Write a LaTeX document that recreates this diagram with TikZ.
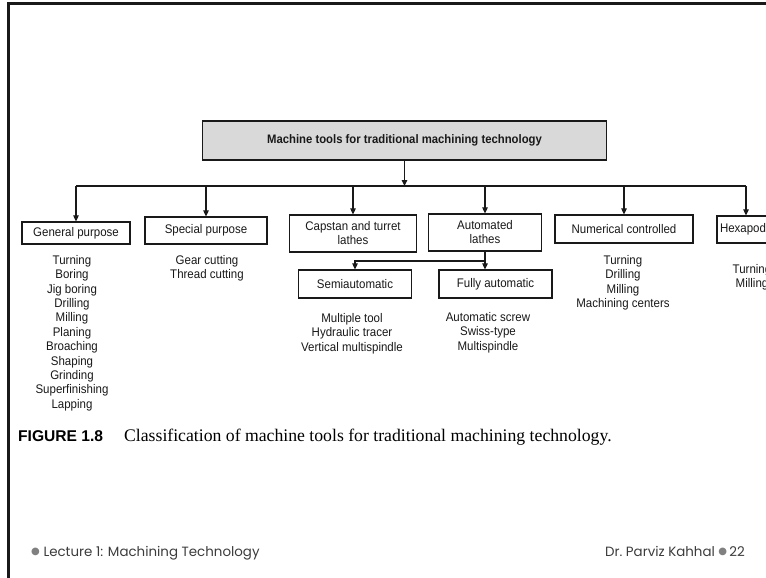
\documentclass[tikz,border=0pt]{standalone}
\usepackage{fontspec}
\setmainfont{Liberation Serif}
\setsansfont{Liberation Sans}
\newfontfamily\diagfont[FakeStretch=0.92]{Liberation Sans}
\newfontfamily\footfont{Poppins}
\newfontfamily\symfont{DejaVu Sans}
\usetikzlibrary{arrows.meta}
\definecolor{MtInk}{RGB}{25,25,25}
\definecolor{MtFill}{RGB}{217,217,217}
\definecolor{MtFoot}{RGB}{60,60,60}
\definecolor{MtDot}{RGB}{128,128,128}
\tikzset{
  mt box/.style={
    draw=MtInk,
    line width=1.2pt,
    align=center,
    font=\fontsize{12.5}{14}\selectfont\diagfont,
    text=MtInk,
    inner xsep=3pt,
    inner ysep=2pt
  },
  mt title/.style={mt box, fill=MtFill, line width=1.8pt, font=\fontsize{12.3}{13}\selectfont\diagfont\bfseries, minimum width=404pt, minimum height=39pt},
  mt list/.style={align=center, anchor=north, inner sep=0pt, text=MtInk, font=\fontsize{12.5}{14.4}\selectfont\diagfont},
  mt link/.style={draw=MtInk, line width=1.1pt},
  mt arrow/.style={mt link, -{Triangle[length=6pt,width=5.5pt]}},
  mt foot/.style={inner sep=0pt, text=MtFoot, font=\fontsize{13.4}{15}\selectfont\footfont}
}
\newcommand{\mtdot}{\raisebox{1.2pt}{\symfont\color{MtDot}\fontsize{10}{12}\selectfont ●}}

\begin{document}
\begin{tikzpicture}[x=1pt,y=-1pt]
\useasboundingbox (0,0) rectangle (766,578);
\clip (0,0) rectangle (766,578);
\fill[white] (0,0) rectangle (766,578);
% slide frame
\draw[line width=3.5pt, MtInk] (8.5,580) -- (8.5,3.5) -- (770,3.5);

\node[mt title] (root) at (404.5,140.5) {Machine tools for traditional machining technology};

% first level
\node[mt box, minimum width=108pt, minimum height=22pt] (gen) at (76,233) {General purpose};
\node[mt box, minimum width=122pt, minimum height=27pt] (spec) at (206,230.5) {Special purpose};
\node[mt box, minimum width=127pt, minimum height=37pt] (cap) at (353,233.5) {Capstan and turret\\lathes};
\node[mt box, minimum width=113pt, minimum height=37pt] (auto) at (485,232.5) {Automated\\lathes};
\node[mt box, minimum width=138pt, minimum height=28pt] (nc) at (624,229) {Numerical controlled};
\node[mt box, text width=52pt, align=left, minimum height=27pt] (hex) at (746,229.5) {Hexapod};

% second level
\node[mt box, minimum width=113pt, minimum height=28pt] (semi) at (355,284) {Semiautomatic};
\node[mt box, minimum width=113pt, minimum height=28pt] (full) at (495.5,284) {Fully automatic};

% lists
\node[mt list] (genl) at (72,255) {Turning\\Boring\\Jig boring\\Drilling\\Milling\\Planing\\Broaching\\Shaping\\Grinding\\Superfinishing\\Lapping};
\node[mt list] (specl) at (207,255) {Gear cutting\\Thread cutting};
\node[mt list] (semil) at (352,313) {Multiple tool\\Hydraulic tracer\\Vertical multispindle};
\node[mt list] (fulll) at (488,312) {Automatic screw\\Swiss-type\\Multispindle};
\node[mt list] (ncl) at (623,255) {Turning\\Drilling\\Milling\\Machining centers};
\node[mt list] (hexl) at (752,264) {Turning\\Milling};

% connectors
\coordinate (busy) at (0,186);
\coordinate (suby) at (0,261);
\draw[mt arrow] (root) -- (root.south |- busy);
\draw[mt link] (gen.north |- busy) -- (hex.north |- busy);
\foreach \n in {gen,spec,cap,auto,nc,hex}
  \draw[mt arrow] (\n.north |- busy) -- (\n.north);
\draw[mt arrow] (auto.south) -- (auto.south |- full.north);
\draw[mt arrow] (auto.south |- suby) -| (semi.north);

% caption and footer
\node[anchor=base west, inner sep=0pt, font=\fontsize{17.7}{20}\selectfont] (caption) at (18,441)
  {{\sffamily\bfseries\fontsize{15.6}{18}\selectfont FIGURE 1.8}\hspace{21pt}Classification of machine tools for traditional machining technology.};
\node[mt foot, anchor=base west] (footl) at (31,556) {\mtdot\ Lecture 1: Machining Technology};
\node[mt foot, anchor=base east] (footr) at (745,556) {Dr.\ Parviz Kahhal \mtdot\,22};
\end{tikzpicture}
\end{document}
